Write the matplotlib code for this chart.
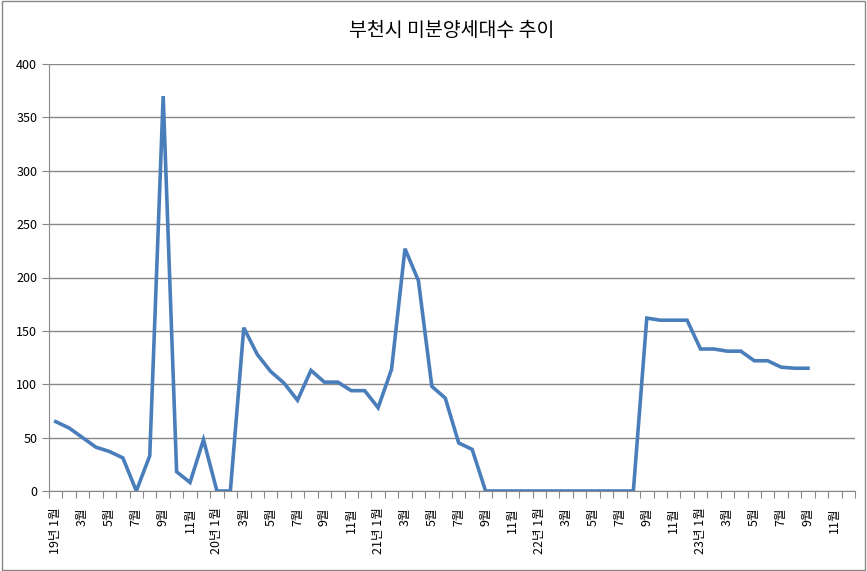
import matplotlib
matplotlib.use("Agg")
import matplotlib.pyplot as plt
from matplotlib.patches import Rectangle

plt.rcParams['font.family'] = ['Noto Sans CJK KR', 'DejaVu Sans']

months = [f"{y}년 {m}월" if m == 1 else f"{m}월" for y in range(19, 24) for m in range(1, 13)]
values = [65, 59, 50, 41, 37, 31, 0, 33, 370, 18, 8, 48,
          0, 0, 153, 128, 112, 101, 85, 113, 102, 102, 94, 94,
          78, 114, 227, 197, 98, 87, 45, 39, 0, 0, 0, 0,
          0, 0, 0, 0, 0, 0, 0, 0, 162, 160, 160, 160,
          133, 133, 131, 131, 122, 122, 116, 115, 115]
title = "부천시 미분양세대수 추이"

fig = plt.figure(figsize=(8.67, 5.71), dpi=100)
ax = fig.add_axes([49/867, 1-491/571, (855-49)/867, (491-64)/571])
x = list(range(len(values)))
ax.plot(x, values, color='#4a7ebb', lw=2.6, solid_joinstyle='miter')
ax.set_xlim(-0.5, len(months) - 0.5)
ax.set_ylim(0, 400)
ax.set_yticks(range(0, 401, 50))
ax.set_xticks([i - 0.5 for i in range(len(months) + 1)], minor=False)
ax.set_xticklabels([])
ax.set_xticks(range(0, len(months), 2), minor=True)
ax.set_xticklabels(months[::2], minor=True, rotation=90, fontsize=9)
ax.tick_params(axis='x', which='major', length=5, color='#888888')
ax.tick_params(axis='x', which='minor', length=0, pad=12)
ax.tick_params(axis='y', length=5, color='#888888', labelsize=9)
ax.grid(axis='y', color='#888888', lw=1)
for s in ['top', 'right']:
    ax.spines[s].set_visible(False)
for s in ['left', 'bottom']:
    ax.spines[s].set_color('#888888')
ax.set_title(title, fontsize=14, pad=20, fontweight='light')
fig.patches.append(Rectangle((0.002, 0.002), 0.996, 0.996, transform=fig.transFigure,
                             fill=False, edgecolor='#888888', lw=1))
fig.savefig("out.png", dpi=100)
